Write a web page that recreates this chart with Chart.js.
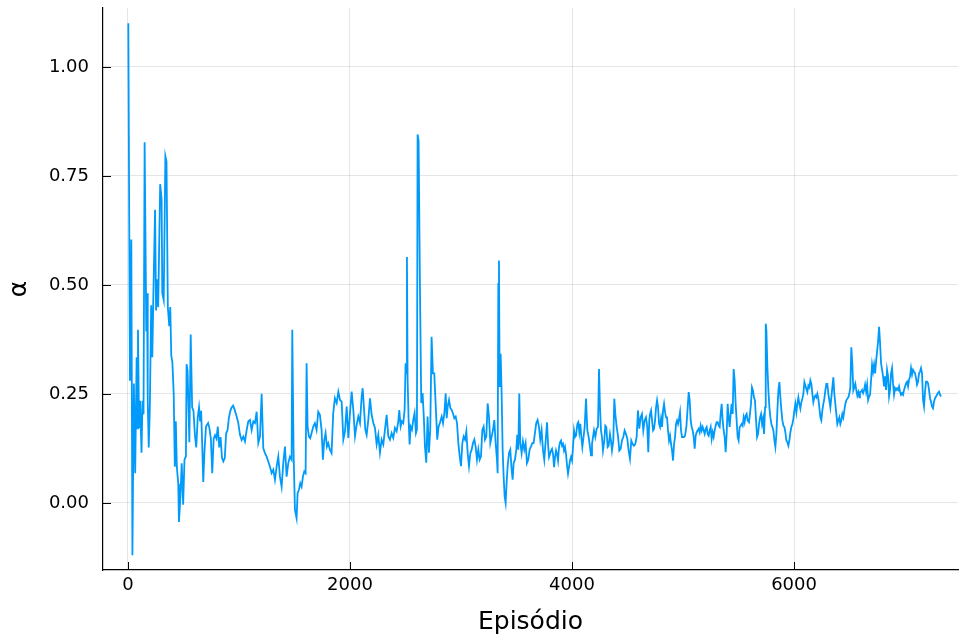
<!DOCTYPE html>
<html>
<head>
<meta charset="utf-8">
<script src="https://cdn.jsdelivr.net/npm/chart.js"></script>
<style>
  html, body { margin: 0; padding: 0; background: #fff; }
  canvas { display: block; }
</style>
</head>
<body>
<canvas id="alphaChart" width="960" height="641"></canvas>
<script>
// episode number of each sample
const episodios = [
  3, 18, 30, 40, 53, 65, 78, 84, 90, 100,
  109, 122, 131, 140, 150, 165, 172, 178, 187, 197,
  209, 219, 228, 244, 253, 262, 272, 290, 303, 309,
  322, 337, 347, 359, 372, 381, 390, 400, 412, 422,
  431, 440, 453, 459, 472, 484, 497, 509, 522, 528,
  537, 553, 565, 578, 590, 603, 615, 628, 640, 650,
  659, 669, 678, 690, 703, 722, 734, 747, 759, 772,
  784, 797, 809, 822, 834, 847, 859, 872, 884, 897,
  909, 922, 934, 947, 959,
  979, 994, 1009, 1024, 1039, 1054, 1069, 1084, 1099, 1114,
  1129, 1144, 1159, 1174, 1189, 1204, 1219, 1234, 1249, 1264,
  1279, 1294, 1309, 1324, 1339, 1354, 1369, 1384, 1399, 1414,
  1429, 1444, 1459, 1474,
  1480, 1492, 1504, 1519, 1528, 1540, 1552, 1564, 1576, 1588, 1600, 1609, 1618, 1630, 1642, 1654,
  1669, 1684, 1699, 1714, 1729, 1744,
  1756, 1768, 1780, 1792, 1804,
  1819, 1834, 1849, 1864,
  1880, 1895, 1910, 1925, 1940, 1955, 1970, 1985, 2000, 2015, 2030, 2045, 2060, 2075, 2090, 2105,
  2114, 2126, 2138, 2150,
  2165, 2180, 2195, 2210, 2225, 2240, 2255, 2270, 2285, 2300, 2315, 2330, 2345, 2360, 2375, 2390, 2405, 2420, 2435,
  2444, 2456, 2468, 2480, 2492, 2501, 2507, 2513, 2519, 2528,
  2537, 2546, 2558, 2570, 2582, 2594, 2603, 2609, 2618, 2630,
  2642, 2654, 2666, 2675, 2687, 2699, 2711, 2723, 2735, 2747,
  2759, 2774, 2786, 2798, 2810,
  2826, 2838, 2850, 2862, 2871, 2880, 2892, 2904, 2916, 2928,
  2940, 2952, 2964, 2976, 2988, 3000, 3012, 3024, 3036, 3048,
  3060, 3072, 3084, 3096, 3108, 3120, 3132, 3144, 3156, 3168,
  3180, 3192, 3204, 3216, 3228, 3240, 3252, 3264, 3276, 3288,
  3300, 3312, 3324, 3330, 3336, 3342, 3348, 3357, 3366, 3375,
  3384, 3393, 3402, 3411, 3420, 3432, 3444, 3456, 3465, 3474,
  3486, 3498, 3507, 3516, 3525, 3534, 3546, 3558, 3570, 3582,
  3594, 3606, 3618, 3630, 3642, 3654, 3666, 3678, 3690, 3702,
  3714, 3726, 3738, 3750,
  3775, 3784, 3793, 3802, 3811, 3820, 3829, 3838, 3847, 3856,
  3865, 3874, 3883, 3892, 3901, 3910, 3919, 3928, 3937, 3946,
  3955, 3964, 3973, 3982, 3991, 4000, 4009, 4018, 4027, 4036,
  4048, 4057, 4066, 4075, 4084, 4093, 4102, 4114, 4126, 4138,
  4150, 4162, 4171, 4180, 4189, 4198, 4210, 4222, 4234, 4243,
  4252, 4261, 4270, 4279, 4291, 4300, 4309, 4321, 4330, 4342,
  4351, 4360, 4372, 4381, 4390, 4402, 4414, 4426, 4438, 4450,
  4462, 4474, 4486, 4498, 4510, 4522, 4534, 4546, 4558, 4570,
  4582, 4594, 4606, 4618, 4630, 4642, 4654, 4666, 4678, 4687,
  4696,
  4703, 4712, 4721, 4730, 4739, 4748, 4757, 4766, 4775, 4784,
  4793, 4802, 4811, 4820, 4829, 4838, 4847, 4856, 4865, 4874,
  4883, 4892, 4901, 4910, 4919, 4928, 4937, 4946, 4955, 4964,
  4973, 4982, 4991, 5000, 5009, 5018, 5030, 5042, 5051, 5060,
  5069, 5078, 5087, 5096, 5105, 5114, 5123, 5132, 5141, 5150,
  5159, 5168, 5177, 5186, 5195, 5204, 5213, 5222, 5231, 5240,
  5249, 5258, 5267, 5276, 5285, 5294, 5303, 5312, 5321, 5330,
  5339, 5348, 5357, 5366, 5375, 5384, 5393, 5402, 5411, 5420,
  5429, 5438, 5447, 5456, 5465, 5474, 5483, 5492, 5501, 5510,
  5519, 5528, 5537, 5546, 5555, 5564, 5573, 5582, 5594, 5603,
  5612, 5621, 5630, 5639, 5648,
  5658, 5667, 5676, 5685, 5694, 5703, 5712, 5721, 5730, 5739,
  5745, 5751, 5760, 5769, 5778, 5787, 5796, 5805, 5814, 5823,
  5832, 5841, 5850, 5859, 5868, 5877, 5886, 5895, 5904, 5913,
  5922, 5931, 5940, 5949, 5958, 5967, 5976, 5985, 5994, 6003,
  6012, 6021, 6030, 6039, 6048, 6057, 6066, 6075, 6084, 6093,
  6102, 6111, 6120, 6129, 6138, 6147, 6156, 6165, 6174, 6183,
  6192, 6201, 6210, 6219, 6228, 6237, 6246, 6255, 6264, 6273,
  6282, 6291, 6300, 6309, 6318, 6327, 6336, 6345, 6354, 6363,
  6372, 6381, 6390, 6399, 6408, 6417, 6426, 6435, 6444, 6453,
  6462, 6471, 6480, 6489, 6498, 6507, 6516, 6525, 6534, 6543,
  6552, 6561, 6570, 6579, 6588, 6594,
  6604, 6613, 6622, 6631, 6640, 6649, 6658, 6667, 6676, 6685,
  6694, 6703, 6712, 6721, 6730, 6739, 6748, 6757, 6766, 6775,
  6784, 6793, 6802, 6811, 6820, 6829, 6838, 6847, 6856, 6865,
  6874, 6883, 6892, 6901, 6910, 6919, 6928, 6937, 6946, 6955,
  6964, 6973, 6982, 6991, 7000, 7009, 7018, 7027, 7036, 7045,
  7054, 7063, 7072, 7081, 7090, 7099, 7108, 7117, 7126, 7135,
  7144, 7153, 7162, 7171, 7180, 7189, 7198, 7207, 7216, 7225,
  7234, 7243, 7252, 7261, 7270, 7279, 7288, 7297, 7306, 7315,
  7324
];

// alpha value at each of those episodes
const alfa = [
  1.10, 0.28, 0.604, -0.12, 0.274, 0.068, 0.334, 0.171, 0.397, 0.171,
  0.234, 0.115, 0.234, 0.203, 0.827, 0.393, 0.481, 0.234, 0.127, 0.219,
  0.453, 0.334, 0.465, 0.672, 0.441, 0.513, 0.449, 0.731, 0.696, 0.481,
  0.465, 0.795, 0.783, 0.449, 0.405, 0.449, 0.338, 0.322, 0.250, 0.083,
  0.187, 0.083, 0.044, -0.044, 0.012, 0.091, -0.004, 0.099, 0.107, 0.318,
  0.302, 0.139, 0.386, 0.219, 0.211, 0.155, 0.127, 0.195, 0.219, 0.187,
  0.211, 0.131, 0.048, 0.123, 0.175, 0.183, 0.171, 0.147, 0.068, 0.147,
  0.155, 0.147, 0.175, 0.127, 0.151, 0.103, 0.095, 0.103, 0.159, 0.167,
  0.195, 0.211, 0.219, 0.223, 0.215,
  0.198, 0.183, 0.156, 0.144, 0.152, 0.141, 0.167, 0.187, 0.190, 0.167,
  0.187, 0.183, 0.209, 0.137, 0.152, 0.250, 0.125, 0.114, 0.106, 0.095,
  0.083, 0.068, 0.076, 0.053, 0.083, 0.106, 0.060, 0.037, 0.091, 0.129,
  0.060, 0.091, 0.106, 0.099,
  0.397, 0.114, -0.016, -0.035, 0.022, 0.030, 0.045, 0.037, 0.060, 0.072, 0.068, 0.320, 0.175, 0.152, 0.148, 0.160,
  0.175, 0.183, 0.167, 0.209, 0.202, 0.167,
  0.099, 0.144, 0.160, 0.129, 0.137,
  0.122, 0.114, 0.206, 0.240,
  0.229, 0.255, 0.236, 0.232, 0.145, 0.164, 0.221, 0.149, 0.206, 0.255, 0.213, 0.153, 0.179, 0.198, 0.183, 0.244,
  0.263, 0.217, 0.168, 0.156,
  0.191, 0.240, 0.202, 0.183, 0.172, 0.134, 0.156, 0.115, 0.145, 0.134, 0.168, 0.202, 0.153, 0.145, 0.160, 0.149, 0.172, 0.164, 0.187,
  0.213, 0.175, 0.187, 0.183, 0.213, 0.320, 0.297, 0.564, 0.282, 0.191,
  0.134, 0.175, 0.168, 0.191, 0.206, 0.160, 0.168, 0.845, 0.830, 0.495,
  0.229, 0.252, 0.191, 0.130, 0.092, 0.198, 0.115, 0.168, 0.381, 0.297,
  0.297, 0.213, 0.145, 0.175, 0.183,
  0.198, 0.183, 0.205, 0.251, 0.194, 0.221, 0.236, 0.217, 0.213, 0.205,
  0.194, 0.198, 0.183, 0.137, 0.107, 0.084, 0.137, 0.152, 0.145, 0.164,
  0.114, 0.084, 0.114, 0.122, 0.137, 0.145, 0.129, 0.099, 0.122, 0.099,
  0.107, 0.167, 0.175, 0.145, 0.152, 0.228, 0.198, 0.137, 0.152, 0.167,
  0.190, 0.137, 0.099, 0.068, 0.502, 0.556, 0.266, 0.342, 0.251, 0.122,
  0.061, 0.015, 0.000, 0.046, 0.084, 0.114, 0.122, 0.076, 0.053, 0.091,
  0.099, 0.122, 0.156, 0.122, 0.251, 0.137, 0.114, 0.141, 0.122, 0.137,
  0.091, 0.099, 0.122, 0.129, 0.137, 0.137, 0.160, 0.183, 0.190, 0.175,
  0.145, 0.167, 0.122, 0.099,
  0.185, 0.135, 0.105, 0.112, 0.120, 0.124, 0.112, 0.082, 0.105, 0.120,
  0.112, 0.097, 0.128, 0.139, 0.143, 0.131, 0.135, 0.120, 0.128, 0.112,
  0.086, 0.067, 0.082, 0.097, 0.105, 0.097, 0.128, 0.166, 0.151, 0.154,
  0.181, 0.185, 0.162, 0.181, 0.151, 0.128, 0.147, 0.174, 0.239, 0.166,
  0.151, 0.128, 0.109, 0.135, 0.151, 0.166, 0.151, 0.170, 0.174, 0.307,
  0.219, 0.166, 0.151, 0.120, 0.143, 0.177, 0.174, 0.128, 0.131, 0.158,
  0.143, 0.120, 0.143, 0.239, 0.204, 0.174, 0.154, 0.120, 0.124, 0.143,
  0.151, 0.166, 0.158, 0.147, 0.120, 0.101, 0.143, 0.135, 0.131, 0.135,
  0.151, 0.212, 0.170, 0.196, 0.204, 0.166, 0.189, 0.196, 0.174, 0.116,
  0.189,
  0.204, 0.212, 0.189, 0.166, 0.170, 0.189, 0.219, 0.235, 0.219, 0.181,
  0.174, 0.193, 0.174, 0.212, 0.227, 0.208, 0.196, 0.196, 0.166, 0.143,
  0.154, 0.135, 0.120, 0.097, 0.135, 0.151, 0.181, 0.189, 0.181, 0.193,
  0.208, 0.166, 0.151, 0.151, 0.151, 0.154, 0.174, 0.219, 0.254, 0.235,
  0.189, 0.174, 0.166, 0.151, 0.124, 0.154, 0.162, 0.166, 0.170, 0.162,
  0.177, 0.166, 0.174, 0.166, 0.158, 0.170, 0.174, 0.158, 0.154, 0.166,
  0.174, 0.147, 0.162, 0.151, 0.166, 0.177, 0.185, 0.185, 0.177, 0.174,
  0.204, 0.227, 0.189, 0.166, 0.151, 0.116, 0.158, 0.227, 0.196, 0.174,
  0.204, 0.227, 0.204, 0.307, 0.281, 0.227, 0.189, 0.151, 0.143, 0.174,
  0.177, 0.181, 0.177, 0.196, 0.185, 0.200, 0.204, 0.189, 0.185, 0.204,
  0.227, 0.265, 0.258, 0.242, 0.235,
  0.189, 0.151, 0.158, 0.181, 0.196, 0.204, 0.181, 0.193, 0.158, 0.219,
  0.411, 0.395, 0.311, 0.258, 0.219, 0.196, 0.181, 0.174, 0.166, 0.143,
  0.128, 0.158, 0.212, 0.258, 0.277, 0.242, 0.212, 0.189, 0.177, 0.174,
  0.162, 0.143, 0.139, 0.131, 0.143, 0.162, 0.174, 0.181, 0.193, 0.212,
  0.227, 0.208, 0.227, 0.242, 0.227, 0.216, 0.231, 0.239, 0.250, 0.277,
  0.269, 0.261, 0.254, 0.269, 0.265, 0.281, 0.273, 0.250, 0.231, 0.242,
  0.246, 0.242, 0.250, 0.239, 0.219, 0.196, 0.189, 0.212, 0.227, 0.239,
  0.258, 0.273, 0.273, 0.250, 0.235, 0.219, 0.242, 0.265, 0.288, 0.250,
  0.227, 0.204, 0.181, 0.189, 0.196, 0.181, 0.189, 0.204, 0.196, 0.212,
  0.227, 0.235, 0.239, 0.242, 0.250, 0.265, 0.357, 0.319, 0.258, 0.265,
  0.273, 0.258, 0.246, 0.254, 0.242, 0.254,
  0.255, 0.259, 0.252, 0.259, 0.271, 0.255, 0.271, 0.236, 0.244, 0.248,
  0.282, 0.317, 0.301, 0.317, 0.297, 0.324, 0.347, 0.370, 0.404, 0.366,
  0.320, 0.305, 0.290, 0.267, 0.290, 0.259, 0.305, 0.290, 0.244, 0.259,
  0.297, 0.309, 0.274, 0.248, 0.263, 0.259, 0.263, 0.259, 0.267, 0.255,
  0.248, 0.252, 0.248, 0.259, 0.267, 0.274, 0.278, 0.267, 0.282, 0.290,
  0.309, 0.294, 0.305, 0.301, 0.297, 0.286, 0.271, 0.278, 0.297, 0.301,
  0.309, 0.297, 0.236, 0.221, 0.255, 0.278, 0.278, 0.274, 0.259, 0.240,
  0.232, 0.221, 0.217, 0.232, 0.240, 0.244, 0.248, 0.252, 0.255, 0.248,
  0.244
];

const xTicks = [0, 2000, 4000, 6000];
const yTicks = [0, 0.25, 0.5, 0.75, 1.0];

if (episodios.length !== alfa.length) {
  console.error('length mismatch', episodios.length, alfa.length);
}

// short tick marks pointing into the plot from the left and bottom axes
const innerTicks = {
  id: 'innerTicks',
  afterDraw(chart) {
    const ctx = chart.ctx;
    const area = chart.chartArea;
    const sx = chart.scales.x;
    const sy = chart.scales.y;
    ctx.save();
    ctx.strokeStyle = '#000';
    ctx.lineWidth = 1;
    ctx.beginPath();
    xTicks.forEach((v) => {
      const px = Math.round(sx.getPixelForValue(v)) + 0.5;
      ctx.moveTo(px, area.bottom);
      ctx.lineTo(px, area.bottom - 8);
    });
    yTicks.forEach((v) => {
      const py = Math.round(sy.getPixelForValue(v)) + 0.5;
      ctx.moveTo(area.left, py);
      ctx.lineTo(area.left + 8, py);
    });
    ctx.stroke();
    ctx.restore();
  }
};

const tickFont = { family: 'DejaVu Sans', size: 18 };
const titleFont = { family: 'DejaVu Sans', size: 25 };

new Chart(document.getElementById('alphaChart'), {
  type: 'line',
  data: {
    datasets: [{
      data: episodios.map((e, i) => ({ x: e, y: alfa[i] })),
      borderColor: 'rgb(0,154,250)',
      borderWidth: 1.8,
      pointRadius: 0,
      tension: 0,
      fill: false
    }]
  },
  options: {
    responsive: false,
    animation: false,
    devicePixelRatio: 1,
    layout: { padding: { top: 8, right: 2, left: 0, bottom: 0 } },
    plugins: { legend: { display: false }, tooltip: { enabled: false } },
    scales: {
      x: {
        type: 'linear',
        min: -225,
        max: 7477,
        afterBuildTicks: (s) => { s.ticks = xTicks.map((v) => ({ value: v })); },
        afterFit: (s) => {
          s.height = 71;
          s.paddingLeft = 0;
          s.paddingRight = 0;
        },
        grid: { color: 'rgba(0,0,0,0.1)', drawTicks: false },
        border: { color: '#000', width: 1.2 },
        ticks: {
          autoSkip: false, maxRotation: 0, padding: 5, color: '#000', font: tickFont,
          callback: (v) => String(v)
        },
        title: {
          display: true, text: 'Episódio', color: '#000', font: titleFont,
          padding: { top: 4, bottom: 4 }
        }
      },
      y: {
        type: 'linear',
        min: -0.154,
        max: 1.135,
        afterBuildTicks: (s) => { s.ticks = yTicks.map((v) => ({ value: v })); },
        afterFit: (s) => {
          s.width = 103;
          s.paddingTop = 0;
          s.paddingBottom = 0;
        },
        grid: { color: 'rgba(0,0,0,0.1)', drawTicks: false },
        border: { color: '#000', width: 1.2 },
        ticks: {
          autoSkip: false, padding: 14, color: '#000', font: tickFont,
          callback: (v) => v.toFixed(2)
        },
        title: {
          display: true, text: 'α', color: '#000', font: titleFont,
          padding: { top: 4, bottom: 4 }
        }
      }
    }
  },
  plugins: [innerTicks]
});
</script>
</body>
</html>
